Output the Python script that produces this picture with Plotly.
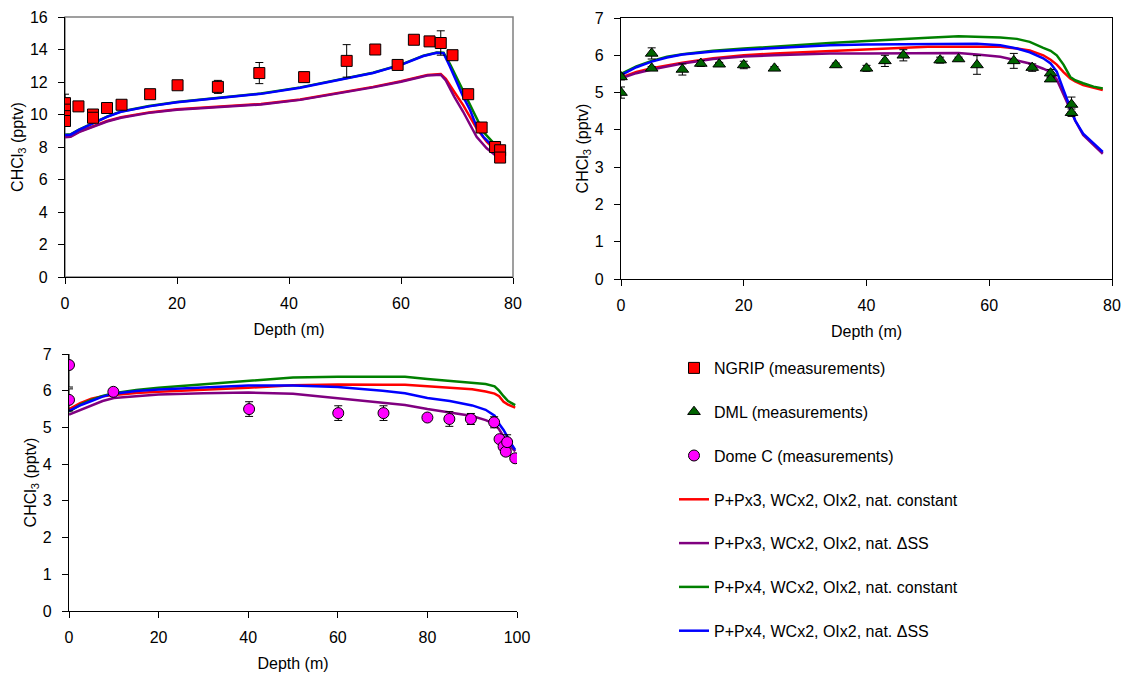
import plotly.graph_objects as go

# ---------------- data ----------------
# NGRIP measurements (top-left)
ngrip_depth = [0, 0, 0, 0, 2.4, 5.0, 5.0, 7.5, 10.1, 15.2, 20.1, 27.3, 34.7, 42.7, 50.3, 55.4, 59.4, 62.3, 65.1, 67.1, 69.2, 72.0, 74.4, 76.8, 77.7, 77.7]
ngrip_val = [10.7, 10.3, 9.9, 9.6, 10.5, 10.0, 9.8, 10.4, 10.6, 11.25, 11.8, 11.7, 12.55, 12.3, 13.3, 14.0, 13.05, 14.6, 14.5, 14.4, 13.65, 11.25, 9.2, 8.0, 7.8, 7.35]
ngrip_err = [0.55, 0, 0, 0, 0.15, 0, 0, 0.15, 0.25, 0.15, 0.25, 0.4, 0.65, 0.3, 1.0, 0.1, 0.3, 0, 0.1, 0.75, 0.1, 0.1, 0.2, 0.1, 0.1, 0.1]

# DML measurements (top-right)
dml_depth = [0, 0, 5, 5, 10, 13, 16, 20, 25, 35, 40, 43, 46, 52, 55, 58, 64, 67, 70, 70, 73.4, 73.4]
dml_val = [5.42, 5.0, 6.05, 5.65, 5.62, 5.78, 5.76, 5.74, 5.65, 5.74, 5.65, 5.85, 6.0, 5.87, 5.9, 5.74, 5.85, 5.67, 5.52, 5.36, 4.68, 4.46]
dml_err = [0.08, 0.15, 0.15, 0.05, 0.15, 0.08, 0.05, 0.1, 0.05, 0.05, 0.08, 0.15, 0.15, 0.08, 0.05, 0.25, 0.2, 0.1, 0.1, 0.05, 0.2, 0.1]

# Dome C measurements (bottom-left)
domec_depth = [0, 0, 9.9, 40.2, 60.1, 70.2, 80, 84.9, 89.7, 94.9, 96.1, 97.0, 97.5, 97.8, 99.6]
domec_val = [6.7, 5.75, 5.97, 5.5, 5.39, 5.39, 5.27, 5.23, 5.23, 5.14, 4.68, 4.48, 4.34, 4.6, 4.16]
domec_err = [0.6, 0.3, 0.05, 0.2, 0.2, 0.2, 0.05, 0.2, 0.15, 0.15, 0.05, 0.05, 0.1, 0.2, 0.05]

# Model lines, NGRIP
ng_depth_px4 = [0, 1, 2.5, 5, 7.5, 10, 15, 20, 27.5, 35, 42, 50, 55, 60, 64, 66.4, 67.6, 68.75, 69.9, 71.1, 72.3, 73.5, 74.7, 76.5, 77.6]
ng_blue = [8.74, 8.76, 9.05, 9.46, 9.85, 10.17, 10.5, 10.75, 11.03, 11.27, 11.65, 12.2, 12.55, 13.05, 13.6, 13.8, 13.77, 12.94, 12.0, 11.1, 10.3, 9.25, 8.63, 8.0, 7.7]
ng_green = [8.76, 8.78, 9.07, 9.48, 9.87, 10.19, 10.52, 10.77, 11.05, 11.29, 11.67, 12.22, 12.57, 13.07, 13.62, 13.82, 13.8, 13.1, 12.3, 11.4, 10.6, 9.77, 8.94, 8.25, 8.0]
ng_depth_px3 = [0, 1, 2.5, 5, 7.5, 10, 15, 20, 27.5, 35, 42, 50, 55, 60, 64.7, 67.1, 68, 69.5, 71.1, 73.5, 75.3, 76.8, 77.6]
ng_red = [8.63, 8.66, 8.95, 9.29, 9.6, 9.83, 10.13, 10.32, 10.48, 10.65, 10.93, 11.4, 11.7, 12.05, 12.43, 12.49, 12.2, 11.4, 10.58, 9.15, 8.33, 7.8, 7.6]
ng_purple = [8.6, 8.63, 8.92, 9.26, 9.57, 9.8, 10.1, 10.29, 10.45, 10.62, 10.9, 11.37, 11.67, 12.02, 12.4, 12.45, 12.1, 11.1, 10.17, 8.63, 7.92, 7.5, 7.2]

# Model lines, DML
dml_line_depth = [0, 2.5, 5, 7.5, 10, 15, 20, 25, 30, 34, 40, 45, 50, 55, 58, 61.8, 64.5, 66.6, 68.8, 70, 71, 72.1, 73.2, 74, 75.3, 77, 78.5]
dml_red = [5.4, 5.55, 5.65, 5.73, 5.8, 5.92, 6.0, 6.05, 6.09, 6.12, 6.17, 6.21, 6.23, 6.23, 6.23, 6.23, 6.18, 6.13, 6.0, 5.88, 5.75, 5.55, 5.38, 5.3, 5.2, 5.12, 5.07]
dml_purple = [5.38, 5.52, 5.62, 5.71, 5.78, 5.9, 5.97, 6.0, 6.03, 6.05, 6.05, 6.06, 6.06, 6.06, 6.02, 5.96, 5.86, 5.78, 5.64, 5.55, 5.35, 4.95, 4.53, 4.25, 3.86, 3.6, 3.36]
dml_green = [5.5, 5.7, 5.85, 5.96, 6.03, 6.12, 6.18, 6.24, 6.29, 6.33, 6.38, 6.43, 6.47, 6.51, 6.5, 6.48, 6.44, 6.36, 6.2, 6.12, 6.0, 5.75, 5.42, 5.33, 5.25, 5.16, 5.11]
dml_blue = [5.47, 5.68, 5.83, 5.94, 6.02, 6.1, 6.15, 6.2, 6.24, 6.27, 6.29, 6.3, 6.31, 6.31, 6.31, 6.27, 6.18, 6.08, 5.92, 5.78, 5.56, 5.07, 4.62, 4.25, 3.9, 3.64, 3.41]

# Model lines, Dome C
dc_line_depth = [0, 2.5, 5, 7.5, 10, 15, 20, 30, 40, 50, 60, 70, 75, 80, 85, 90, 93, 95, 96, 97, 98, 99, 99.6]
dc_red = [5.5, 5.66, 5.78, 5.85, 5.88, 5.94, 5.97, 6.02, 6.08, 6.15, 6.17, 6.16, 6.16, 6.12, 6.08, 6.04, 5.98, 5.92, 5.85, 5.7, 5.62, 5.56, 5.54]
dc_purple = [5.35, 5.48, 5.6, 5.72, 5.8, 5.86, 5.9, 5.93, 5.95, 5.92, 5.8, 5.68, 5.61, 5.5, 5.4, 5.31, 5.2, 5.1, 4.95, 4.75, 4.55, 4.42, 4.35]
dc_green = [5.43, 5.62, 5.75, 5.86, 5.93, 6.02, 6.08, 6.17, 6.28, 6.36, 6.38, 6.38, 6.38, 6.32, 6.27, 6.22, 6.18, 6.12, 6.0, 5.85, 5.72, 5.65, 5.61]
dc_blue = [5.45, 5.6, 5.72, 5.84, 5.92, 5.99, 6.03, 6.08, 6.14, 6.14, 6.1, 6.0, 5.93, 5.8, 5.72, 5.6, 5.48, 5.32, 5.1, 4.93, 4.7, 4.5, 4.39]

model_names = [
    "P+Px3, WCx2, OIx2, nat. constant",
    "P+Px3, WCx2, OIx2, nat. ΔSS",
    "P+Px4, WCx2, OIx2, nat. constant",
    "P+Px4, WCx2, OIx2, nat. ΔSS",
]
model_colors = ["#FF0000", "#800080", "#008000", "#0000FF"]

# ---------------- figure ----------------
W, H = 1123, 677
FONT = "Liberation Sans, Arial, sans-serif"
fig = go.Figure()

panels = [
    ("x", "y", [(ng_depth_px3, ng_red), (ng_depth_px3, ng_purple), (ng_depth_px4, ng_green), (ng_depth_px4, ng_blue)]),
    ("x2", "y2", [(dml_line_depth, dml_red), (dml_line_depth, dml_purple), (dml_line_depth, dml_green), (dml_line_depth, dml_blue)]),
    ("x3", "y3", [(dc_line_depth, dc_red), (dc_line_depth, dc_purple), (dc_line_depth, dc_green), (dc_line_depth, dc_blue)]),
]
for pi, (xa, ya, lines) in enumerate(panels):
    for li, (xs, ys) in enumerate(lines):
        fig.add_trace(go.Scatter(
            x=xs, y=ys, mode="lines", xaxis=xa, yaxis=ya,
            name=model_names[li], legendgroup=model_names[li], legendrank=4 + li,
            showlegend=(pi == 0),
            line=dict(color=model_colors[li], width=2.5),
        ))

meas = [
    ("NGRIP (measurements)", ngrip_depth, ngrip_val, ngrip_err, "x", "y", "square", "#FF0000"),
    ("DML (measurements)", dml_depth, dml_val, dml_err, "x2", "y2", "triangle-up", "#006400"),
    ("Dome C (measurements)", domec_depth, domec_val, domec_err, "x3", "y3", "circle", "#FF00FF"),
]
for mi, (nm, xs, ys, es, xa, ya, sym, col) in enumerate(meas):
    fig.add_trace(go.Scatter(
        x=xs, y=ys, mode="markers", xaxis=xa, yaxis=ya, name=nm,
        legendgroup=nm, legendrank=1 + mi,
        marker=dict(symbol=sym, size=11, color=col, line=dict(color="black", width=1)),
        error_y=dict(type="data", array=es, visible=True, color="black", thickness=1, width=4),
    ))

def px_dom_x(a, b):
    return [a / W, b / W]

def px_dom_y(top, bottom):
    return [(H - bottom) / H, (H - top) / H]

tick_font = dict(family=FONT, size=16, color="black")
axis_common = dict(showgrid=False, zeroline=False, ticks="outside", ticklen=6, tickwidth=1,
                   tickcolor="black", showline=True, linecolor="black", linewidth=1.2,
                   tickfont=tick_font, automargin=False)
title_font = dict(family=FONT, size=16, color="black")
ytitle = "CHCl<sub>3</sub> (pptv)"

xtitle = lambda: dict(text="Depth (m)", font=title_font, standoff=12)
ytitle_d = lambda: dict(text=ytitle, font=title_font, standoff=2)

fig.update_layout(
    width=W, height=H,
    margin=dict(l=0, r=0, t=0, b=0),
    paper_bgcolor="white", plot_bgcolor="white",
    font=dict(family=FONT, size=16, color="black"),
    xaxis=dict(domain=px_dom_x(65, 513), range=[0, 80], dtick=20, anchor="y",
               ticklabelstandoff=6, title=xtitle(), **axis_common),
    yaxis=dict(domain=px_dom_y(17, 277), range=[0, 16], dtick=2, anchor="x",
               ticklabelstandoff=7, title=ytitle_d(), **axis_common),
    xaxis2=dict(domain=px_dom_x(621, 1112), range=[0, 80], dtick=20, anchor="y2", mirror=True,
                ticklabelstandoff=6, title=xtitle(), **axis_common),
    yaxis2=dict(domain=px_dom_y(18, 279), range=[0, 7], dtick=1, anchor="x2", mirror=True,
                ticklabelstandoff=7, title=ytitle_d(), **axis_common),
    xaxis3=dict(domain=px_dom_x(69, 517), range=[0, 100], dtick=20, anchor="y3",
                ticklabelstandoff=6, title=xtitle(), **axis_common),
    yaxis3=dict(domain=px_dom_y(354, 611), range=[0, 7], dtick=1, anchor="x3",
                ticklabelstandoff=7, title=ytitle_d(), **axis_common),
    legend=dict(x=674 / W, y=(H - 351) / H, xanchor="left", yanchor="top",
                font=dict(family=FONT, size=16, color="black"),
                bgcolor="rgba(0,0,0,0)", tracegroupgap=20, itemsizing="trace"),
    shapes=[dict(type="rect", xref="x domain", yref="y domain", x0=0, x1=1, y0=0, y1=1,
                 line=dict(color="#808080", width=1.5), layer="below")],
)

fig.write_html("out.html", config={"displayModeBar": False},
               post_script="document.body.style.margin='0px';document.body.style.overflow='hidden';")
